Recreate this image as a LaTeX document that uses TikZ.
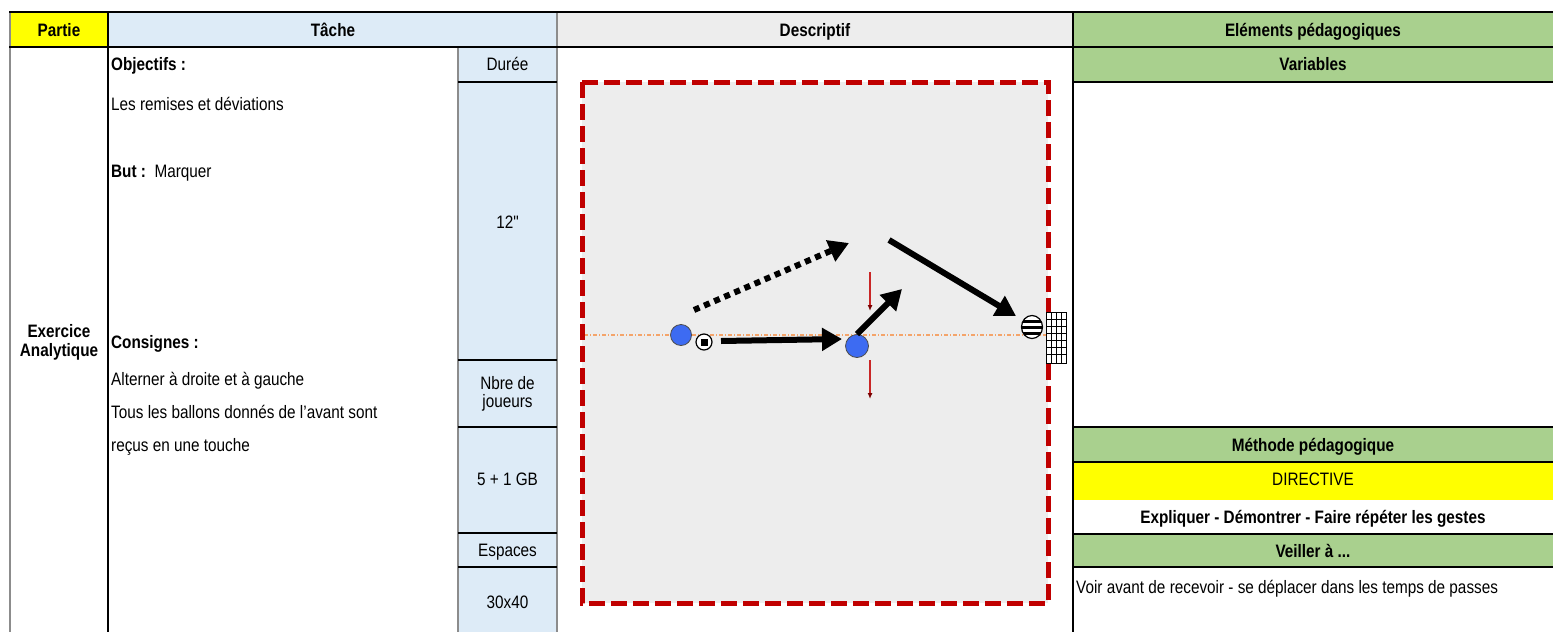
\documentclass[tikz,border=0pt]{standalone}
\usepackage{fontspec}
\setmainfont{Liberation Sans}[FakeStretch=0.85]
\newfontfamily\plainfont{Liberation Sans}[FakeStretch=0.85]
\usetikzlibrary{arrows.meta}
\definecolor{hyellow}{HTML}{FFFF00}
\definecolor{lblue}{HTML}{DDEBF7}
\definecolor{lgreen}{HTML}{A9D08E}
\definecolor{lgray}{HTML}{EDEDED}
\definecolor{fieldred}{HTML}{C00000}
\definecolor{pblue}{HTML}{3D6BF2}
\definecolor{orng}{HTML}{F4A46A}
\definecolor{gline}{HTML}{8C8C8C}
\definecolor{dred}{HTML}{7A0000}
\tikzset{
  txt/.style={inner sep=0pt, font=\fontsize{18}{20}\selectfont},
  ctr/.style={txt, anchor=base},
  lft/.style={txt, anchor=base west},
  bld/.style={font=\fontsize{18}{20}\selectfont\bfseries},
  bline/.style={line width=2pt, black},
  gridgray/.style={line width=2pt, gline},
  pass/.style={line width=6pt, -{Triangle[length=20pt,width=22pt]}},
  runline/.style={line width=6pt, dash pattern=on 6pt off 5pt, -{Triangle[length=20pt,width=22pt]}},
  mark arrow/.style={line width=1.3pt, fieldred!85, -{Latex[length=6pt,width=5pt,color=dred]}},
  player/.style={circle, draw=black!70, line width=0.8pt, fill=pblue, inner sep=0pt, minimum size=#1},
}
\begin{document}
\begin{tikzpicture}[x=1pt,y=-1pt]
\useasboundingbox (0,0) rectangle (1553,632);
\fill[white] (0,0) rectangle (1553,632);
% cell fills
\fill[hyellow] (10,12) rectangle (108,47);
\fill[lblue] (108,12) rectangle (557,47);
\fill[lgray] (557,12) rectangle (1073,47);
\fill[lgreen] (1073,12) rectangle (1553,82);
\fill[lblue] (458,47) rectangle (557,632);
\fill[lgreen] (1073,427) rectangle (1553,462);
\fill[hyellow] (1073,462) rectangle (1553,500);
\fill[lgreen] (1073,534) rectangle (1553,567);
% grid lines
\draw[gridgray] (10,12) -- (10,632);
\draw[gridgray] (458,47) -- (458,632);
\draw[gridgray] (557,12) -- (557,632);
\draw[bline] (108,12) -- (108,632);
\draw[bline] (1073,12) -- (1073,632);
\draw[bline] (9,12) -- (1553,12);
\draw[bline] (9,47) -- (1553,47);
\foreach \yy in {82,360,427,533,567} \draw[bline] (458,\yy) -- (557,\yy);
\foreach \yy in {82,427,462,534,567} \draw[bline] (1073,\yy) -- (1553,\yy);
% header texts
\node[ctr,bld] (hpartie) at (59,36) {Partie};
\node[ctr,bld] (htache) at (333,36) {Tâche};
\node[ctr,bld] (hdesc) at (815,36) {Descriptif};
\node[ctr,bld] (helem) at (1313,36) {Eléments pédagogiques};
% partie
\node[ctr,bld] (exo1) at (59,337) {Exercice};
\node[ctr,bld] (exo2) at (59,356) {Analytique};
% tache
\node[lft,bld] (obj) at (111,70) {Objectifs :};
\node[lft] (objt) at (111,110) {Les remises et déviations};
\node[lft] (but) at (111,177) {\textbf{But :}\ \ Marquer};
\node[lft,bld] (cons) at (111,348) {Consignes :};
\node[lft] (cons1) at (111,385) {Alterner à droite et à gauche};
\node[lft] (cons2) at (111,418) {Tous les ballons donnés de l'avant sont};
\node[lft] (cons3) at (111,451) {reçus en une touche};
% duree column
\node[ctr] (duree) at (507.5,70) {Durée};
\node[ctr] (dureev) at (507.5,228) {{\plainfont 12"}};
\node[ctr] (nbre1) at (507.5,389) {Nbre de};
\node[ctr] (nbre2) at (507.5,407) {joueurs};
\node[ctr] (nbrev) at (507.5,485) {5 + 1 GB};
\node[ctr] (esp) at (507.5,556) {Espaces};
\node[ctr] (espv) at (507.5,608) {30x40};
% right column
\node[ctr,bld] (vars) at (1313,70) {Variables};
\node[ctr,bld] (meth) at (1313,451) {Méthode pédagogique};
\node[ctr] (dir) at (1313,485) {DIRECTIVE};
\node[ctr,bld] (expl) at (1313,523) {Expliquer - Démontrer - Faire répéter les gestes};
\node[ctr,bld] (veil) at (1313,557) {Veiller à ...};
\node[lft] (voir) at (1076,593) {Voir avant de recevoir - se déplacer dans les temps de passes};
% field
\fill[lgray] (582,82) rectangle (1048,603);
\draw[orng, line width=1.3pt, dash pattern=on 4pt off 2pt on 1pt off 2pt] (584,335) -- (1046,335);
\draw[fieldred, line width=5pt, dash pattern=on 16pt off 6pt] (582,82) rectangle (1048,603);
% goal
\draw[black, line width=1pt, fill=white] (1046,312) rectangle (1066,363);
\foreach \xx in {1051,1056,1061} \draw[black, line width=0.8pt] (\xx,312) -- (\xx,363);
\foreach \yy in {319,326,333,340,347,354} \draw[black, line width=0.8pt] (1046,\yy) -- (1066,\yy);
% striped ball
\begin{scope}
\clip (1032,327) ellipse [x radius=10.5, y radius=11.5];
\fill[white] (1020,314) rectangle (1044,340);
\fill[black] (1020,319.5) rectangle (1044,322.5);
\fill[black] (1020,325.5) rectangle (1044,328.5);
\fill[black] (1020,331.5) rectangle (1044,334.5);
\end{scope}
\draw[black, line width=1.2pt] (1032,327) ellipse [x radius=10.5, y radius=11.5];
\coordinate (goalball) at (1032,327);
% players and ball
\node[player=21pt] (p1) at (681,335) {};
\node[player=23pt] (p2) at (857,346) {};
\node[circle, draw=black, line width=1.2pt, fill=white, minimum size=16pt, inner sep=0pt] (ball) at (704,342) {};
\fill[black] (700.5,338.5) rectangle (707.5,345.5);
% connectors
\coordinate (a1s) at (721,341);
\coordinate (a1e) at (842,339);
\draw[pass] (a1s) -- (a1e);
\coordinate (a2e) at (902,289);
\draw[pass] (p2.north) -- (a2e);
\coordinate (rs) at (694,310);
\coordinate (re) at (849,243);
\draw[runline] (rs) -- (re);
\coordinate (ss) at (889,240);
\coordinate (se) at (1016,316);
\draw[pass] (ss) -- (se);
\coordinate (m1s) at (870,272);
\coordinate (m1e) at (870,311);
\draw[mark arrow] (m1s) -- (m1e);
\coordinate (m2s) at (870,360);
\coordinate (m2e) at (870,399);
\draw[mark arrow] (m2s) -- (m2e);
\end{tikzpicture}
\end{document}
